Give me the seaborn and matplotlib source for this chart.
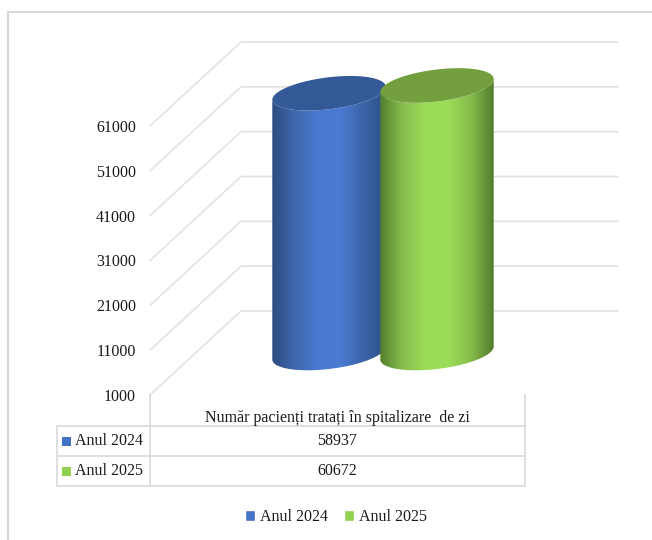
import numpy as np
import pandas as pd
import seaborn as sns
import matplotlib.pyplot as plt
from matplotlib.colors import LinearSegmentedColormap
from matplotlib.lines import Line2D
from matplotlib.patches import Polygon
from matplotlib.transforms import Affine2D, IdentityTransform

category = "Număr pacienți tratați în spitalizare  de zi"
years = ["Anul 2024", "Anul 2025"]
patients = [58937, 60672]
y_ticks = [1000, 11000, 21000, 31000, 41000, 51000, 61000]

colors = ["#4472c4", "#92d050"]
side_colors = [["#2c4c80", "#3f68ad", "#4a7bd2", "#4a7bd2", "#3c64a8", "#2d5088"],
               ["#557f2e", "#86bd4c", "#9bdd58", "#9bdd58", "#86bd4c", "#527c2c"]]
top_colors = ["#335a97", "#739f3e"]
grid_color = "#e2e2e2"
frame_color = "#d9d9d9"
text_color = "#1a1a1a"
font_size = 11.5

W, H = 652, 540

sns.set_theme(style="white")
plt.rcParams["font.family"] = ["Liberation Serif", "DejaVu Serif"]

fig = plt.figure(figsize=(W / 100, H / 100), dpi=100)
ax = fig.add_axes([150 / W, (H - 395) / H, 375 / W, 269 / H])

# reference pixels (y going down) to display coordinates
px = Affine2D().scale(1, -1).translate(0, H)

df = pd.DataFrame({"categorie": [category, category], "an": years, "pacienti": patients})
sns.barplot(data=df, x="categorie", y="pacienti", hue="an", hue_order=years,
            palette=colors, width=0.576, ax=ax, saturation=1)
ax.set_xlim(-0.5, 0.5)
ax.set_ylim(y_ticks[0], y_ticks[-1])
ax.set_yticks(y_ticks)
ax.set_xlabel("")
ax.set_ylabel("")
ax.tick_params(axis="y", length=0, pad=10, labelsize=font_size, labelcolor=text_color)
ax.tick_params(axis="x", length=0, pad=11, labelsize=font_size, labelcolor=text_color)
ax.patch.set_visible(False)
sns.despine(ax=ax, left=True, bottom=True)

sns.move_legend(ax, "center", bbox_to_anchor=(336 / W, (H - 517) / H),
                bbox_transform=fig.transFigure, ncol=2, frameon=False, title=None,
                fontsize=font_size, handlelength=0.62, handleheight=0.62,
                handletextpad=0.3, columnspacing=1.0, labelcolor=text_color)


def add_line(xs, ys, transform=px, color=grid_color, lw=1.2):
    fig.add_artist(Line2D(xs, ys, transform=transform, color=color, lw=lw, zorder=-1))


# walls: diagonals and back gridlines
depth_x, depth_y = 91, 84
for tick in y_ticks:
    y_disp = ax.transData.transform((0, tick))[1]
    add_line([150, 150 + depth_x, 618], [y_disp, y_disp + depth_y, y_disp + depth_y],
             transform=IdentityTransform())

# outer frame has no right or bottom edge
add_line([8, 8, W], [H, 12, 12], color=frame_color, lw=1.5)

# data table
for row_line in [426, 456, 486]:
    add_line([57, 525], [row_line, row_line], color=frame_color)
add_line([57, 57], [426, 486], color=frame_color)
add_line([150, 150], [395, 486], color=frame_color)
add_line([525, 525], [395, 486], color=frame_color)
for row_y, year, value, color in zip([441, 471], years, patients, colors):
    fig.text(75, H - row_y, year, transform=IdentityTransform(), fontsize=font_size,
             color=text_color, ha="left", va="center")
    fig.text(337, H - row_y, str(value), transform=IdentityTransform(), fontsize=font_size,
             color=text_color, ha="center", va="center")
    fig.add_artist(plt.Rectangle((62, H - row_y - 5), 9, 9, transform=IdentityTransform(),
                                 facecolor=color, edgecolor="none"))

# cylinders, built from the bars that seaborn laid out
floor_y = ax.transData.transform((0, y_ticks[0]))[1] + depth_y / 2
t = np.linspace(0, 2 * np.pi, 181)
low = np.linspace(np.pi, 2 * np.pi, 91)
for i, bar in enumerate(ax.patches[:2]):
    cx = ax.transData.transform((bar.get_x() + bar.get_width() / 2, 0))[0] + depth_x / 2
    bar_px = ax.transData.transform((bar.get_width(), 0))[0] - ax.transData.transform((0, 0))[0]
    a = bar_px / 2 * 1.05
    b = 16
    slope = 0.115
    top_y = ax.transData.transform((0, bar.get_height()))[1] + depth_y / 2

    # side outline: lower half of the base, then the top ellipse's lower half back
    base = np.column_stack([cx + a * np.cos(low), floor_y + slope * a * np.cos(low) + b * np.sin(low)])
    upper = np.column_stack([cx + a * np.cos(low[::-1]),
                             top_y + slope * a * np.cos(low[::-1]) + b * np.sin(low[::-1])])
    side = Polygon(np.vstack([base, upper]), closed=True, transform=IdentityTransform(),
                   facecolor="none", edgecolor="none")
    ax.add_patch(side)
    side.set_clip_on(False)

    cmap = LinearSegmentedColormap.from_list(f"side{i}", side_colors[i])
    im = ax.imshow(np.linspace(0, 1, 256)[None, :], cmap=cmap, aspect="auto",
                   extent=[cx - a, cx + a, floor_y - b - 10, top_y + b + 10],
                   transform=IdentityTransform(), zorder=3 + i, interpolation="bilinear")
    im.set_clip_box(fig.bbox)
    im.set_clip_path(side)

    top = Polygon(np.column_stack([cx + a * np.cos(t), top_y + slope * a * np.cos(t) + b * np.sin(t)]),
                  closed=True, transform=IdentityTransform(),
                  facecolor=top_colors[i], edgecolor="none", zorder=3.5 + i)
    ax.add_patch(top)
    top.set_clip_on(False)

    bar.set_visible(False)

ax.set_xlim(-0.5, 0.5)
ax.set_ylim(y_ticks[0], y_ticks[-1])

fig.savefig("out.png", dpi=100)
